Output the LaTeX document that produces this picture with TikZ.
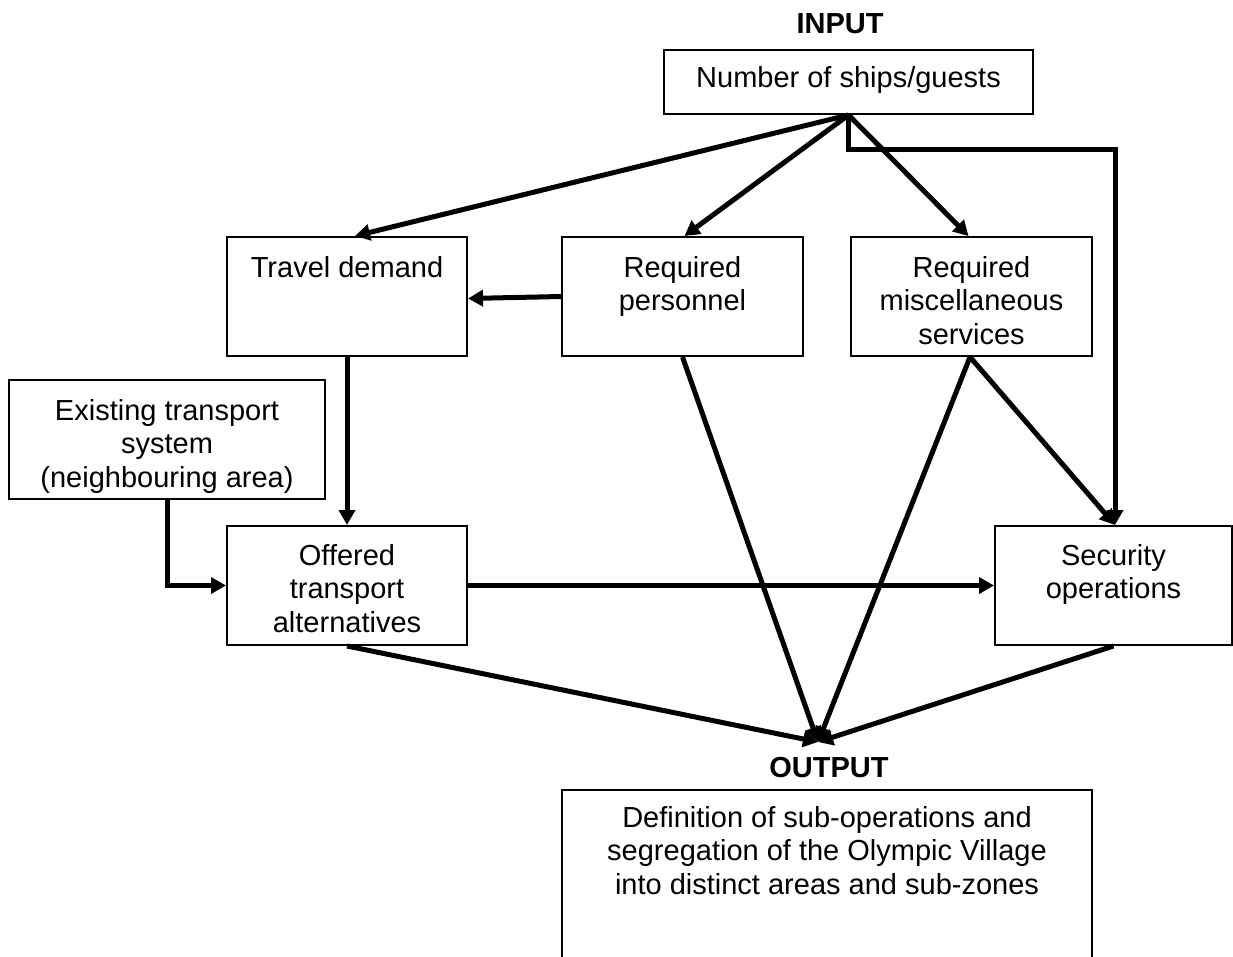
\documentclass[tikz,border=0pt]{standalone}
\usepackage{fontspec}
\setmainfont{Liberation Sans}
\usetikzlibrary{arrows.meta,calc}
\begin{document}
\begin{tikzpicture}[x=1pt,y=-1pt,
  box/.style={draw,line width=2pt,inner sep=0pt},
  txt/.style={anchor=north,inner sep=0pt,align=center,font=\fontsize{29}{33.5}\selectfont},
  lbl/.style={inner sep=0pt,font=\fontsize{29}{33.5}\selectfont\bfseries},
  conn/.style={line width=5pt,-{Triangle[length=15pt,width=16pt]}}]
\useasboundingbox (0,0) rectangle (1233,956);
\begin{scope}
\clip (0,0) rectangle (1233,956);
% boxes
\node[box,minimum width=369pt,minimum height=64pt] (ships) at (848.5,82) {};
\node[box,minimum width=240pt,minimum height=119pt] (travel) at (347,296.5) {};
\node[box,minimum width=241pt,minimum height=119pt] (pers) at (682.5,296.5) {};
\node[box,minimum width=241pt,minimum height=119pt] (misc) at (971.5,296.5) {};
\node[box,minimum width=316pt,minimum height=119pt] (exist) at (167,439.5) {};
\node[box,minimum width=240pt,minimum height=119pt] (offered) at (347,585.5) {};
\node[box,minimum width=237pt,minimum height=119pt] (sec) at (1113.5,585.5) {};
\node[box,minimum width=530pt,minimum height=200pt] (out) at (827,890) {};
% texts
\node[lbl] (inlbl) at (840,24) {INPUT};
\node[lbl] (outlbl) at (829,768) {OUTPUT};
\node[txt] (tships) at ([yshift=-17pt]ships.north) {Number of ships/guests};
\node[txt] (ttravel) at ([yshift=-20pt]travel.north) {Travel demand};
\node[txt] (tpers) at ([yshift=-20pt]pers.north) {Required\\personnel};
\node[txt] (tmisc) at ([yshift=-20pt]misc.north) {Required\\miscellaneous\\services};
\node[txt] (texist) at ([yshift=-20pt]exist.north) {Existing transport\\system\\(neighbouring area)};
\node[txt] (toffered) at ([yshift=-19pt]offered.north) {Offered\\transport\\alternatives};
\node[txt] (tsec) at ([yshift=-19pt]sec.north) {Security\\operations};
\node[txt] (tout) at ([yshift=-17pt]out.north) {Definition of sub-operations and\\segregation of the Olympic Village\\into distinct areas and sub-zones};
\end{scope}
% connectors
\coordinate (conv) at (818,742);
\draw[conn] (ships.south) -- ([xshift=8pt]travel.north);
\draw[conn] (ships.south) -- ([xshift=2pt]pers.north);
\draw[conn] (ships.south) -- ([xshift=-3pt]misc.north);
\draw[conn] (ships.south) -- ++(0,34) -| ([xshift=1.5pt]sec.north);
\draw[conn] (pers.west) -- ([yshift=-2pt]travel.east);
\draw[conn] (travel.south) -- (offered.north);
\draw[conn] (exist.south) |- (offered.west);
\draw[conn] (offered.east) -- (sec.west);
\draw[conn] ([xshift=-1.5pt]misc.south) -- ([xshift=1.5pt]sec.north);
\draw[conn] (offered.south) -- (conv);
\draw[conn] (pers.south) -- (conv);
\draw[conn] ([xshift=-1.5pt]misc.south) -- (conv);
\draw[conn] (sec.south) -- (conv);
\end{tikzpicture}
\end{document}
